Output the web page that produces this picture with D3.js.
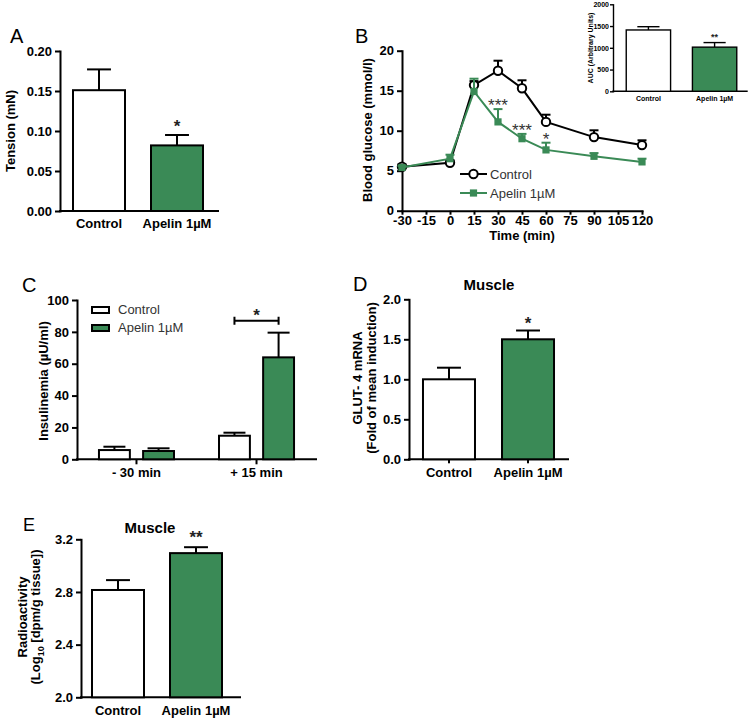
<!DOCTYPE html>
<html><head><meta charset="utf-8">
<script src="https://cdn.jsdelivr.net/npm/d3@7"></script>
<style>
body{margin:0;background:#fff}
svg{display:block}
</style></head><body>
<svg id="chart" width="750" height="720"></svg>
<script>
// ---------- DATA ----------
const categories = ["Control", "Apelin 1µM"];
const seriesColors = ["#ffffff", "#3a8a56"];

// Panel A
const tensionMeans = [0.151, 0.082];
const tensionErrors = [0.026, 0.013];
const tensionTicks = [0, 0.05, 0.10, 0.15, 0.20];
const tensionStars = ["", "*"];

// Panel B
const glucoseTimes = [-30, 0, 15, 30, 45, 60, 90, 120];
const glucoseControl = [5.5, 6.0, 15.7, 17.5, 15.3, 11.1, 9.2, 8.2];
const glucoseControlErr = [0.3, 0.3, 0.5, 1.25, 1.0, 0.9, 0.85, 0.6];
const glucoseApelin = [5.4, 6.5, 14.9, 11.1, 9.0, 7.6, 6.8, 6.1];
const glucoseApelinErr = [0.2, 0.5, 1.6, 1.6, 0.6, 0.9, 0.4, 0.4];
const glucoseStars = ["", "", "", "***", "***", "*", "", ""];
const glucoseXTicks = [-30, -15, 0, 15, 30, 45, 60, 75, 90, 105, 120];
const glucoseYTicks = [0, 5, 10, 15, 20];

// Panel B inset
const aucMeans = [1410, 1015];
const aucErrors = [75, 105];
const aucTicks = [0, 500, 1000, 1500, 2000];
const aucStars = ["", "**"];

// Panel C
const insulinGroups = ["- 30 min", "+ 15 min"];
const insulinControl = [5.8, 14.8];
const insulinControlErr = [2.1, 1.9];
const insulinApelin = [5.2, 64];
const insulinApelinErr = [1.7, 15.5];
const insulinTicks = [0, 20, 40, 60, 80, 100];
const insulinBracketValue = 87;

// Panel D
const glutMeans = [1.0, 1.5];
const glutErrors = [0.145, 0.11];
const glutTicks = [0, 0.5, 1.0, 1.5, 2.0];
const glutStars = ["", "*"];

// Panel E
const radioMeans = [2.815, 3.095];
const radioErrors = [0.075, 0.045];
const radioTicks = [2.0, 2.4, 2.8, 3.2];
const radioStars = ["", "**"];

// ---------- DRAWING ----------
const FF = '"Liberation Sans", Arial, Helvetica, sans-serif';
const GREEN = seriesColors[1];
const svg = d3.select("#chart").attr("font-family", FF);

function styleAxis(g, fs, sw) {
  g.attr("font-family", FF).attr("font-size", fs).attr("font-weight", "bold");
  g.selectAll("path.domain").attr("stroke", "#000").attr("stroke-width", sw).attr("stroke-linecap", "square");
  g.selectAll(".tick line").attr("stroke", "#000").attr("stroke-width", sw);
  g.selectAll(".tick text").attr("fill", "#000");
}

function text(x, y, s, opt = {}) {
  const t = svg.append("text").attr("x", x).attr("y", y).text(s)
    .attr("font-size", opt.fs || 13)
    .attr("font-weight", opt.fw || "normal")
    .attr("fill", opt.fill || "#000")
    .attr("text-anchor", opt.anchor || "start");
  if (opt.rotate) t.attr("transform", `rotate(-90,${x},${y})`);
  return t;
}

function barPanel(o) {
  const y = d3.scaleLinear().domain(o.domain).range([o.bottom, o.top]);
  const x = d3.scaleBand().domain(categories).range([o.left, o.bandEnd])
    .paddingInner(o.pi).paddingOuter(o.po);
  const fs = o.fs || 13, sw = o.sw || 2;
  const ya = svg.append("g").attr("transform", `translate(${o.left},0)`)
    .call(d3.axisLeft(y).tickValues(o.ticks).tickFormat(d3.format(o.fmt))
      .tickSize(o.tl || 5).tickSizeOuter(0).tickPadding(o.tp || 3));
  styleAxis(ya, fs, sw);
  const xa = svg.append("g").attr("transform", `translate(0,${o.bottom})`)
    .call(d3.axisBottom(x).tickSize(o.xtl || 0).tickSizeOuter(0).tickPadding(o.xtp));
  styleAxis(xa, fs, sw);
  xa.select("path.domain").attr("d", `M${o.left},0H${o.axisEnd}`);

  const g = svg.append("g");
  categories.forEach((c, i) => {
    const cx = x(c) + x.bandwidth() / 2;
    const v = o.means[i], e = o.errs[i];
    const cw = x.bandwidth() * (o.cap || 0.46);
    g.append("line").attr("x1", cx).attr("x2", cx).attr("y1", y(v)).attr("y2", y(v + e))
      .attr("stroke", "#000").attr("stroke-width", sw);
    g.append("line").attr("x1", cx - cw / 2).attr("x2", cx + cw / 2).attr("y1", y(v + e)).attr("y2", y(v + e))
      .attr("stroke", "#000").attr("stroke-width", sw);
    g.append("rect").attr("x", x(c)).attr("width", x.bandwidth())
      .attr("y", y(v)).attr("height", y(o.domain[0]) - y(v))
      .attr("fill", seriesColors[i]).attr("stroke", "#000").attr("stroke-width", sw);
    if (o.stars[i]) {
      text(cx, y(v + e) - o.starGap, o.stars[i], {fs: o.starFs || 17, fw: "bold", anchor: "middle", fill: "#222"});
    }
  });
  return {x, y};
}

// Panel A
text(10, 43, "A", {fs: 20});
barPanel({left: 60, bandEnd: 216, axisEnd: 218, top: 51, bottom: 211,
  domain: [0, 0.2], ticks: tensionTicks, fmt: ".2f", pi: 1/3, po: 1/6,
  means: tensionMeans, errs: tensionErrors, stars: tensionStars, starGap: 3, xtl: 0, xtp: 8});
text(15, 131, "Tension (mN)", {fs: 13, fw: "bold", anchor: "middle", rotate: true});

// Panel D
text(353, 291, "D", {fs: 20});
barPanel({left: 409, bandEnd: 568, axisEnd: 568, top: 299.3, bottom: 459.3,
  domain: [0, 2], ticks: glutTicks, fmt: ".1f", pi: 0.342, po: 0.177,
  means: glutMeans, errs: glutErrors, stars: glutStars, starGap: 1.5, xtl: 4, xtp: 4.5});
text(489, 290, "Muscle", {fs: 15, fw: "bold", anchor: "middle"});
text(362, 378, "GLUT- 4 mRNA", {fs: 13, fw: "bold", anchor: "middle", rotate: true});
text(376, 378, "(Fold of mean induction)", {fs: 13, fw: "bold", anchor: "middle", rotate: true});

// Panel E
text(23, 531, "E", {fs: 18});
barPanel({left: 81, bandEnd: 233, axisEnd: 240, top: 539.3, bottom: 697.3,
  domain: [2.0, 3.2], ticks: radioTicks, fmt: ".1f", pi: 1/3, po: 0.141,
  means: radioMeans, errs: radioErrors, stars: radioStars, starGap: 4, xtl: 0, xtp: 8.5});
text(150, 533, "Muscle", {fs: 15, fw: "bold", anchor: "middle"});
text(27, 617, "Radioactivity", {fs: 13, fw: "bold", anchor: "middle", rotate: true});
{
  const t = text(40, 617, "", {fs: 13, fw: "bold", anchor: "middle", rotate: true});
  t.append("tspan").text("(Log");
  t.append("tspan").text("10").attr("font-size", 9).attr("dy", 4);
  t.append("tspan").text(" [dpm/g tissue])").attr("dy", -4);
}

// Inset AUC
barPanel({left: 613, bandEnd: 750, axisEnd: 747, top: 4.3, bottom: 91.3,
  domain: [0, 2000], ticks: aucTicks, fmt: "d", pi: 0.33, po: 0.2,
  means: aucMeans, errs: aucErrors, stars: aucStars, starGap: 3, starFs: 9,
  fs: 7, sw: 1.4, tl: 3, tp: 1, xtl: 0, xtp: 5, cap: 0.5});
text(593, 48, "AUC (Arbitrary Units)", {fs: 7, fw: "bold", anchor: "middle", rotate: true});

// Panel B line chart
text(355, 43, "B", {fs: 20});
{
  const x = d3.scaleLinear().domain([-30, 120]).range([402, 642]);
  const y = d3.scaleLinear().domain([0, 20]).range([210.7, 50.7]);
  const ya = svg.append("g").attr("transform", "translate(402,0)")
    .call(d3.axisLeft(y).tickValues(glucoseYTicks).tickSize(5).tickSizeOuter(0).tickPadding(3));
  styleAxis(ya, 13, 2);
  const xa = svg.append("g").attr("transform", "translate(0,210.7)")
    .call(d3.axisBottom(x).tickValues(glucoseXTicks).tickFormat(d => String(d))
      .tickSize(4).tickSizeOuter(0).tickPadding(1));
  styleAxis(xa, 13, 2);
  text(522, 240, "Time (min)", {fs: 13, fw: "bold", anchor: "middle"});
  text(372, 130, "Blood glucose (mmol/l)", {fs: 13, fw: "bold", anchor: "middle", rotate: true});

  const line = d3.line().x((d, i) => x(glucoseTimes[i])).y(d => y(d));
  const series = [
    {vals: glucoseControl, errs: glucoseControlErr, color: "#000", marker: "circle"},
    {vals: glucoseApelin, errs: glucoseApelinErr, color: GREEN, marker: "square"}
  ];
  series.forEach(s => {
    const g = svg.append("g");
    s.vals.forEach((v, i) => {
      const cx = x(glucoseTimes[i]);
      g.append("line").attr("x1", cx).attr("x2", cx).attr("y1", y(v)).attr("y2", y(v + s.errs[i]))
        .attr("stroke", s.color).attr("stroke-width", 2);
      g.append("line").attr("x1", cx - 4.5).attr("x2", cx + 4.5).attr("y1", y(v + s.errs[i])).attr("y2", y(v + s.errs[i]))
        .attr("stroke", s.color).attr("stroke-width", 2);
    });
    g.append("path").datum(s.vals).attr("d", line).attr("fill", "none")
      .attr("stroke", s.color).attr("stroke-width", 2);
    s.vals.forEach((v, i) => {
      const cx = x(glucoseTimes[i]), cy = y(v);
      if (s.marker === "circle") {
        g.append("circle").attr("cx", cx).attr("cy", cy).attr("r", 4.2)
          .attr("fill", "#fff").attr("stroke", "#000").attr("stroke-width", 2);
      } else {
        g.append("rect").attr("x", cx - 3.6).attr("y", cy - 3.6).attr("width", 7.2).attr("height", 7.2)
          .attr("fill", s.color);
      }
    });
  });
  glucoseStars.forEach((s, i) => {
    if (!s) return;
    const top = y(glucoseApelin[i] + glucoseApelinErr[i]);
    text(x(glucoseTimes[i]), top + 2, s, {fs: 17, anchor: "middle", fill: "#333"});
  });
  // legend
  const lg = svg.append("g");
  lg.append("line").attr("x1", 460).attr("x2", 487).attr("y1", 174).attr("y2", 174).attr("stroke", "#000").attr("stroke-width", 2);
  lg.append("circle").attr("cx", 473.5).attr("cy", 174).attr("r", 4.2).attr("fill", "#fff").attr("stroke", "#000").attr("stroke-width", 2);
  lg.append("line").attr("x1", 460).attr("x2", 487).attr("y1", 193).attr("y2", 193).attr("stroke", GREEN).attr("stroke-width", 2);
  lg.append("rect").attr("x", 469.9).attr("y", 189.4).attr("width", 7.2).attr("height", 7.2).attr("fill", GREEN);
  text(490, 178.5, categories[0], {fs: 13, fill: "#333"});
  text(490, 197.5, categories[1], {fs: 13, fill: "#333"});
}

// Panel C grouped bars
text(22, 292, "C", {fs: 20});
{
  const x0 = d3.scaleBand().domain(insulinGroups).range([77, 316]).paddingInner(0.375).paddingOuter(0.183);
  const x1 = d3.scaleBand().domain(categories).range([0, x0.bandwidth()]).paddingInner(0.3).paddingOuter(0);
  const y = d3.scaleLinear().domain([0, 100]).range([459.3, 300]);
  const ya = svg.append("g").attr("transform", "translate(77,0)")
    .call(d3.axisLeft(y).tickValues(insulinTicks).tickSize(5).tickSizeOuter(0).tickPadding(3));
  styleAxis(ya, 13, 2);
  const xa = svg.append("g").attr("transform", "translate(0,459.3)")
    .call(d3.axisBottom(x0).tickSize(5).tickSizeOuter(0).tickPadding(3));
  styleAxis(xa, 13, 2);
  xa.select("path.domain").attr("d", "M77,0H316");
  text(48, 381, "Insulinemia (µU/ml)", {fs: 13, fw: "bold", anchor: "middle", rotate: true});

  const seriesVals = [insulinControl, insulinApelin];
  const seriesErrs = [insulinControlErr, insulinApelinErr];
  const g = svg.append("g");
  insulinGroups.forEach((grp, gi) => {
    categories.forEach((c, si) => {
      const bx = x0(grp) + x1(c), bw = x1.bandwidth(), cx = bx + bw / 2;
      const v = seriesVals[si][gi], e = seriesErrs[si][gi];
      const cw = 22;
      g.append("line").attr("x1", cx).attr("x2", cx).attr("y1", y(v)).attr("y2", y(v + e)).attr("stroke", "#000").attr("stroke-width", 2);
      g.append("line").attr("x1", cx - cw / 2).attr("x2", cx + cw / 2).attr("y1", y(v + e)).attr("y2", y(v + e)).attr("stroke", "#000").attr("stroke-width", 2);
      g.append("rect").attr("x", bx).attr("width", bw).attr("y", y(v)).attr("height", y(0) - y(v))
        .attr("fill", seriesColors[si]).attr("stroke", "#000").attr("stroke-width", 2);
    });
  });
  // significance bracket on +15 min group
  const grp = insulinGroups[1];
  const bxa = x0(grp) + x1(categories[0]) + x1.bandwidth() / 2;
  const bxb = x0(grp) + x1(categories[1]) + x1.bandwidth() / 2;
  const by = y(insulinBracketValue);
  g.append("path").attr("d", `M${bxa},${by - 4}V${by + 4}M${bxa},${by}H${bxb}M${bxb},${by - 4}V${by + 4}`)
    .attr("fill", "none").attr("stroke", "#000").attr("stroke-width", 2);
  text((bxa + bxb) / 2, by, "*", {fs: 17, fw: "bold", anchor: "middle", fill: "#222"});
  // legend
  const lg = svg.append("g");
  lg.append("rect").attr("x", 92).attr("y", 307).attr("width", 17).attr("height", 6).attr("fill", seriesColors[0]).attr("stroke", "#000").attr("stroke-width", 2);
  lg.append("rect").attr("x", 92).attr("y", 325).attr("width", 17).attr("height", 6).attr("fill", seriesColors[1]).attr("stroke", "#000").attr("stroke-width", 2);
  text(118, 314, categories[0], {fs: 13, fill: "#333"});
  text(118, 332, categories[1], {fs: 13, fill: "#333"});
}
</script>
</body></html>
